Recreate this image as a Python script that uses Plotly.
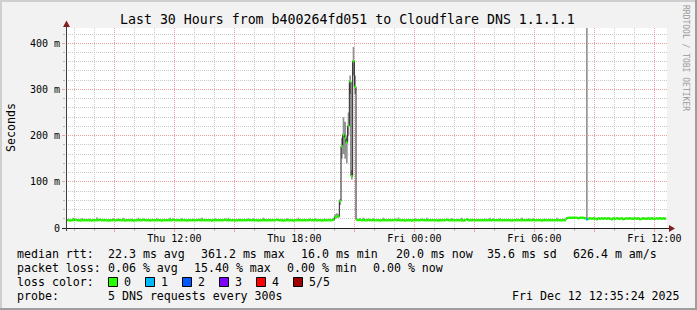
import pandas as pd
import plotly.graph_objects as go

# ---------------- data ----------------
START = "2025-12-11 06:35:00"
VIEW_END = "2025-12-12 12:38:00"
STEP = "5min"

median_ms = [
    17, 17, 16, 17, 17, 18, 17, 17, 16, 17, 17, 17,
    17, 17, 17, 16, 17, 17, 17, 17, 18, 17, 17, 17,
    17, 16, 17, 17, 17, 17, 17, 18, 17, 17, 17, 16,
    17, 17, 17, 17, 16, 17, 17, 17, 17, 17, 18, 17,
    17, 17, 16, 17, 17, 17, 17, 17, 17, 16, 17, 17,
    17, 17, 17, 17, 18, 17, 17, 17, 17, 17, 17, 17,
    16, 17, 17, 17, 17, 17, 17, 18, 17, 17, 17, 17,
    17, 17, 17, 16, 17, 17, 17, 17, 17, 17, 17, 18,
    17, 17, 17, 17, 17, 16, 17, 17, 17, 17, 17, 17,
    17, 18, 17, 17, 17, 17, 17, 16, 17, 17, 17, 17,
    17, 17, 17, 17, 17, 17, 18, 17, 17, 17, 16, 17,
    17, 17, 17, 17, 16, 17, 17, 17, 17, 17, 17, 17,
    17, 17, 18, 17, 17, 17, 17, 17, 17, 16, 17, 17,
    17, 17, 17, 17, 18, 24, 25, 25, 58, 177, 202, 195,
    185, 221, 317, 112, 361, 306, 18, 17, 18, 17, 17, 17,
    17, 18, 17, 17, 17, 17, 17, 17, 16, 17, 17, 17,
    17, 17, 17, 17, 17, 18, 17, 17, 17, 17, 17, 16,
    17, 17, 17, 16, 17, 17, 17, 17, 17, 18, 17, 17,
    17, 17, 17, 17, 17, 17, 17, 16, 17, 17, 17, 17,
    18, 17, 17, 17, 17, 17, 17, 17, 17, 17, 16, 17,
    19, 17, 17, 17, 17, 17, 17, 17, 17, 17, 17, 17,
    17, 17, 17, 17, 18, 17, 17, 17, 17, 17, 17, 17,
    17, 17, 17, 16, 17, 17, 17, 17, 17, 17, 17, 17,
    17, 17, 17, 17, 18, 17, 17, 17, 17, 16, 17, 17,
    17, 17, 17, 17, 17, 17, 17, 17, 17, 17, 17, 17,
    21, 22, 22, 22, 22, 22, 22, 21, 22, 22, 22, 21,
    19, 20, 21, 20, 21, 20, 19, 21, 20, 21, 20, 21,
    20, 21, 20, 19, 21, 20, 21, 20, 20, 21, 19, 20,
    21, 20, 21, 20, 20, 21, 20, 21, 19, 20, 21, 20,
    20, 21, 20, 21, 20, 20, 21, 20, 21, 20, 21, 20,
]

smoke_lo_ms = [
    16, 16, 15, 16, 16, 16, 15, 16, 15, 16, 16, 16,
    16, 15, 16, 15, 16, 16, 16, 15, 16, 16, 16, 16,
    16, 15, 16, 16, 15, 16, 16, 16, 16, 16, 15, 15,
    16, 16, 16, 15, 15, 16, 16, 16, 16, 15, 16, 16,
    16, 16, 15, 16, 16, 16, 15, 16, 16, 15, 16, 16,
    15, 16, 16, 16, 16, 16, 16, 15, 16, 16, 16, 16,
    15, 16, 16, 16, 15, 16, 16, 16, 16, 16, 16, 15,
    16, 16, 16, 15, 16, 16, 15, 16, 16, 16, 16, 16,
    16, 16, 15, 16, 16, 15, 16, 16, 16, 16, 15, 16,
    16, 16, 16, 16, 15, 16, 16, 15, 16, 16, 16, 16,
    16, 15, 16, 16, 16, 16, 16, 16, 15, 16, 15, 16,
    16, 16, 16, 16, 15, 16, 16, 16, 16, 15, 16, 16,
    16, 16, 16, 15, 16, 16, 16, 16, 16, 15, 16, 16,
    16, 16, 16, 16, 16, 20, 22, 22, 50, 150, 160, 150,
    140, 200, 290, 105, 330, 290, 16, 16, 16, 16, 16, 16,
    16, 16, 16, 15, 16, 16, 16, 16, 15, 16, 16, 16,
    16, 16, 15, 16, 16, 16, 16, 16, 16, 16, 15, 15,
    16, 16, 16, 15, 16, 16, 15, 16, 16, 16, 16, 16,
    16, 15, 16, 16, 16, 16, 16, 15, 16, 16, 16, 16,
    16, 16, 16, 16, 15, 16, 16, 16, 16, 16, 15, 16,
    17, 16, 16, 16, 16, 15, 16, 16, 16, 16, 16, 16,
    16, 16, 16, 16, 16, 16, 15, 16, 16, 16, 16, 16,
    16, 16, 16, 15, 16, 16, 16, 16, 15, 16, 16, 16,
    16, 16, 15, 16, 16, 16, 16, 16, 16, 15, 16, 16,
    16, 16, 16, 16, 16, 15, 16, 16, 16, 16, 16, 16,
    20, 20, 20, 20, 20, 20, 20, 20, 20, 20, 20, 20,
    17, 19, 19, 19, 19, 19, 18, 19, 19, 19, 19, 19,
    19, 19, 19, 18, 19, 19, 19, 19, 19, 19, 18, 19,
    19, 19, 19, 19, 19, 19, 19, 19, 18, 19, 19, 19,
    19, 19, 19, 19, 19, 19, 19, 19, 19, 19, 19, 19,
]

smoke_hi_ms = [
    19, 20, 18, 19, 22, 20, 19, 19, 18, 21, 19, 19,
    19, 19, 20, 18, 19, 19, 23, 19, 20, 19, 19, 19,
    19, 18, 19, 19, 21, 19, 19, 20, 19, 19, 22, 18,
    19, 19, 19, 20, 18, 19, 19, 22, 19, 19, 20, 19,
    19, 20, 18, 19, 19, 19, 21, 19, 19, 18, 19, 19,
    19, 19, 22, 19, 20, 19, 19, 19, 19, 21, 19, 19,
    18, 19, 19, 19, 20, 19, 19, 20, 19, 22, 19, 19,
    19, 19, 19, 18, 19, 21, 19, 19, 19, 19, 19, 20,
    19, 22, 19, 19, 19, 18, 19, 19, 20, 19, 19, 19,
    19, 20, 19, 19, 21, 19, 19, 18, 19, 19, 22, 19,
    19, 19, 20, 19, 19, 19, 20, 19, 19, 19, 18, 19,
    21, 19, 19, 19, 18, 19, 19, 22, 19, 19, 19, 19,
    19, 19, 20, 19, 19, 21, 19, 19, 19, 18, 19, 20,
    19, 19, 20, 19, 21, 30, 32, 30, 62, 195, 240, 230,
    200, 250, 330, 125, 392, 330, 20, 19, 21, 19, 22, 19,
    19, 20, 19, 19, 21, 19, 19, 19, 18, 19, 22, 19,
    19, 19, 20, 19, 19, 20, 19, 23, 19, 19, 19, 18,
    19, 19, 19, 18, 19, 21, 19, 19, 19, 20, 19, 19,
    22, 19, 19, 19, 19, 19, 19, 18, 20, 19, 19, 19,
    20, 19, 19, 21, 19, 19, 19, 19, 19, 22, 18, 19,
    21, 19, 19, 20, 19, 19, 19, 19, 19, 19, 19, 20,
    19, 19, 22, 19, 20, 19, 19, 19, 21, 19, 19, 19,
    19, 19, 19, 18, 19, 19, 20, 19, 19, 22, 19, 19,
    19, 21, 19, 19, 20, 19, 19, 19, 19, 18, 19, 20,
    19, 19, 20, 19, 19, 19, 22, 19, 19, 19, 20, 19,
    23, 24, 24, 24, 24, 24, 24, 23, 24, 24, 24, 23,
    2000, 22, 23, 22, 23, 22, 21, 23, 22, 23, 22, 23,
    22, 23, 22, 21, 23, 22, 23, 22, 22, 23, 21, 22,
    23, 22, 23, 22, 22, 23, 22, 23, 21, 22, 23, 22,
    22, 23, 22, 23, 22, 22, 23, 22, 23, 22, 23, 22,
]

# pings lost (out of 5) for the few steps that had any loss
loss_by_index = {312: 1}

loss_labels = ["0", "1", "2", "3", "4", "5/5"]
loss_colors = ["#26ff00", "#00b8ff", "#0059ff", "#7e00ff", "#ff0000", "#a10000"]

x_tick_vals = ["2025-12-11 09:00", "2025-12-11 12:00", "2025-12-11 15:00",
               "2025-12-11 18:00", "2025-12-11 21:00", "2025-12-12 00:00",
               "2025-12-12 03:00", "2025-12-12 06:00", "2025-12-12 09:00",
               "2025-12-12 12:00"]
x_tick_text = ["", "Thu 12:00", "", "Thu 18:00", "", "Fri 00:00", "",
               "Fri 06:00", "", "Fri 12:00"]
y_tick_vals = [0, 100, 200, 300, 400]
y_tick_text = ["0", "100 m", "200 m", "300 m", "400 m"]

title_text = "Last 30 Hours from b400264fd051 to Cloudflare DNS 1.1.1.1"
rtt_items = ["median rtt:", "22.3 ms avg", "361.2 ms max", "16.0 ms min",
             "20.0 ms now", "35.6 ms sd", "626.4 m am/s"]
loss_items = ["packet loss:", "0.06 % avg", "15.40 % max", "0.00 % min", "0.00 % now"]
color_items = ["loss color:"]
probe_items = ["probe:", "5 DNS requests every 300s"]
stamp_text = "Fri Dec 12 12:35:24 2025"

# ---------------- layout helpers ----------------
W, H = 697, 310
ML, MR, MT, MB = 66, 30, 28, 82
PW, PH = W - ML - MR, H - MT - MB
Y_MAX = 433


def fx(px):
    return (px - ML) / PW


def fy(py):
    return (H - MB - py) / PH


def nb(s):
    return s.replace(" ", "\u00a0")


MONO = "DejaVu Sans Mono"
LEG_SIZE = 11.6

edges = pd.date_range(START, periods=len(median_ms) + 1, freq=STEP)
n = len(median_ms)

fig = go.Figure()

# smoke (spread of pings)
fig.add_trace(go.Scatter(
    x=edges, y=smoke_lo_ms + [smoke_lo_ms[-1]], mode="lines",
    line=dict(width=0, shape="hv"), hoverinfo="skip", showlegend=False))
fig.add_trace(go.Scatter(
    x=edges, y=smoke_hi_ms + [smoke_hi_ms[-1]], mode="lines",
    line=dict(width=0, shape="hv"), fill="tonexty", fillcolor="#939393",
    hoverinfo="skip", showlegend=False))

# median dark line
fig.add_trace(go.Scatter(
    x=edges, y=median_ms + [median_ms[-1]], mode="lines",
    line=dict(color="#202020", width=1, shape="hv"),
    hoverinfo="skip", showlegend=False))

# loss-coloured median segments
for lvl, col in enumerate(loss_colors):
    xs, ys = [], []
    for i in range(n):
        if loss_by_index.get(i, 0) == lvl:
            xs += [edges[i], edges[i + 1], None]
            ys += [median_ms[i], median_ms[i], None]
    if xs:
        fig.add_trace(go.Scatter(
            x=xs, y=ys, mode="lines", line=dict(color=col, width=2.5),
            hoverinfo="skip", showlegend=False))

MAJOR_GRID = "#eea0a0"
MINOR_GRID = "#c8c8c8"

fig.update_xaxes(
    type="date", range=[START, VIEW_END],
    tickmode="array", tickvals=x_tick_vals, ticktext=x_tick_text,
    showgrid=True, gridcolor=MAJOR_GRID, griddash="1px,1px", gridwidth=1,
    ticks="outside", ticklen=3, tickcolor=MAJOR_GRID, ticklabelstandoff=-2,
    tickfont=dict(family=MONO, size=10, color="#000"),
    minor=dict(tickmode="linear", tick0="2025-12-11 00:00", dtick=3600000,
               showgrid=True, gridcolor=MINOR_GRID, griddash="1px,1px",
               ticks="outside", ticklen=2, tickcolor="#b8b8b8"),
    showline=False, zeroline=False, fixedrange=True,
)
fig.update_yaxes(
    range=[0, Y_MAX], tickmode="array", tickvals=y_tick_vals, ticktext=y_tick_text,
    showgrid=True, gridcolor=MAJOR_GRID, griddash="1px,1px", gridwidth=1,
    ticks="outside", ticklen=3, tickcolor=MAJOR_GRID,
    tickfont=dict(family=MONO, size=10, color="#000"),
    minor=dict(tickmode="linear", tick0=0, dtick=20,
               showgrid=True, gridcolor=MINOR_GRID, griddash="1px,1px",
               ticks="outside", ticklen=2, tickcolor="#b8b8b8"),
    showline=False, zeroline=False, fixedrange=True,
)

shapes = []
# frame (3D shading)
shapes.append(dict(type="rect", xref="paper", yref="paper", x0=fx(0), x1=fx(W), y0=fy(0), y1=fy(2),
                   fillcolor="#cfcfcf", line=dict(width=0), layer="above"))
shapes.append(dict(type="rect", xref="paper", yref="paper", x0=fx(0), x1=fx(2), y0=fy(0), y1=fy(H),
                   fillcolor="#cfcfcf", line=dict(width=0), layer="above"))
shapes.append(dict(type="rect", xref="paper", yref="paper", x0=fx(0), x1=fx(W), y0=fy(H - 2), y1=fy(H),
                   fillcolor="#9e9e9e", line=dict(width=0), layer="above"))
shapes.append(dict(type="rect", xref="paper", yref="paper", x0=fx(W - 2), x1=fx(W), y0=fy(0), y1=fy(H),
                   fillcolor="#9e9e9e", line=dict(width=0), layer="above"))
# axes
AX_Y = H - MB + 0.5
shapes.append(dict(type="line", xref="paper", yref="paper", x0=fx(62), x1=fx(670), y0=fy(AX_Y), y1=fy(AX_Y),
                   line=dict(color="#1f1f1f", width=1), layer="above"))
shapes.append(dict(type="line", xref="paper", yref="paper", x0=fx(66.5), x1=fx(66.5), y0=fy(231), y1=fy(25),
                   line=dict(color="#404040", width=1), layer="above"))
# arrows
shapes.append(dict(type="path", xref="paper", yref="paper",
                   path=f"M {fx(669)} {fy(AX_Y - 3.5)} L {fx(675)} {fy(AX_Y)} L {fx(669)} {fy(AX_Y + 3.5)} Z",
                   fillcolor="#801f1f", line=dict(width=0), layer="above"))
shapes.append(dict(type="path", xref="paper", yref="paper",
                   path=f"M {fx(63)} {fy(27)} L {fx(66.5)} {fy(20.5)} L {fx(70)} {fy(27)} Z",
                   fillcolor="#801f1f", line=dict(width=0), layer="above"))
# loss colour boxes
box_x = [108, 145, 182, 219, 256, 293]
for bx, col in zip(box_x, loss_colors):
    shapes.append(dict(type="rect", xref="paper", yref="paper",
                       x0=fx(bx + 0.5), x1=fx(bx + 9.5), y0=fy(277.5), y1=fy(286.5),
                       fillcolor=col, line=dict(color="#000000", width=1), layer="above"))

ann = []


def text_at(txt, px, py, size=LEG_SIZE, anchor="left", angle=0, color="#000"):
    ann.append(dict(text=nb(txt), x=fx(px), y=fy(py), xref="paper", yref="paper",
                    xanchor=anchor, yanchor="middle", showarrow=False, textangle=angle,
                    font=dict(family=MONO, size=size, color=color)))


text_at(title_text, 347.5, 19, size=13.25, anchor="center")
text_at("Seconds", 11, 128, anchor="center", angle=-90)
text_at("RRDTOOL / TOBI OETIKER", 686, 58, size=8, anchor="center", angle=90, color="#9a9a9a")

rows = [
    (rtt_items, [15, 106, 199, 299, 394, 485, 571], 254),
    (loss_items, [15, 106, 192, 285, 371], 268),
    (color_items, [15], 282),
    (probe_items, [15, 106], 296),
]
for items, xs_px, ry in rows:
    for txt, px in zip(items, xs_px):
        text_at(txt, px, ry)

label_x = [122, 159, 196, 233, 270, 307]
for lx, lab in zip(label_x, loss_labels):
    text_at(lab, lx, 282)
text_at(stamp_text, 682, 296, anchor="right")

fig.update_layout(
    width=W, height=H, autosize=False,
    margin=dict(l=ML, r=MR, t=MT, b=MB, pad=0),
    paper_bgcolor="#f2f2f2", plot_bgcolor="#ffffff",
    showlegend=False, shapes=shapes, annotations=ann,
    hovermode=False,
)

fig.write_html("out.html", config={"displayModeBar": False})
